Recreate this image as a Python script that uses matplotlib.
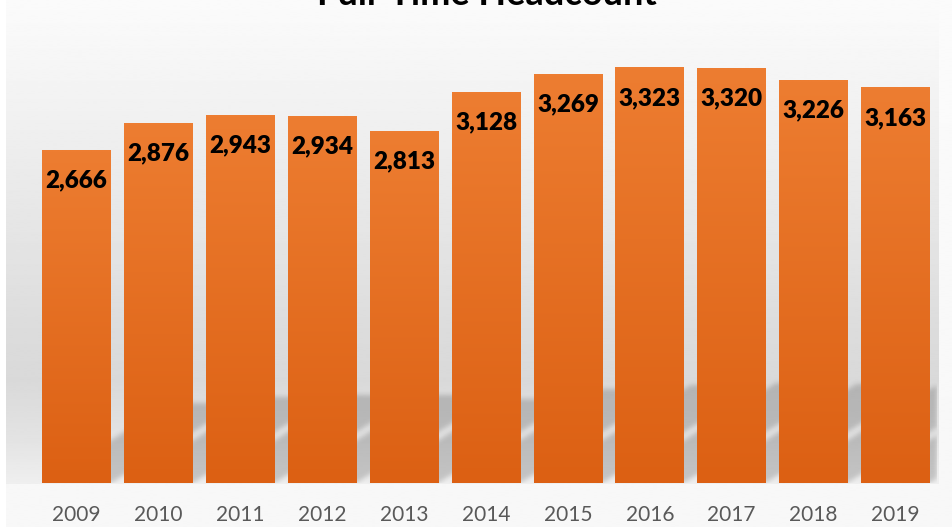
import numpy as np
import matplotlib
matplotlib.use('Agg')
import matplotlib.pyplot as plt

years = ['2009', '2010', '2011', '2012', '2013', '2014', '2015', '2016', '2017', '2018', '2019']
headcount = [2666, 2876, 2943, 2934, 2813, 3128, 3269, 3323, 3320, 3226, 3163]
title = 'Full-Time Headcount'

W, H = 953, 527
plt.rcParams['font.family'] = ['Lato', 'DejaVu Sans']

fig = plt.figure(figsize=(W / 100, H / 100), dpi=100, facecolor='white')

# background layer in pixel coords
bg = fig.add_axes([0, 0, 1, 1])
bg.set_xlim(0, W)
bg.set_ylim(H, 0)
bg.axis('off')

def vgrad(stops_y, stops_v, n):
    yy = np.linspace(stops_y[0], stops_y[-1], n)
    return np.interp(yy, stops_y, stops_v).reshape(-1, 1)

chart_bg = vgrad([0, 527], [0.984, 0.969], 200)
bg.imshow(chart_bg, cmap='gray', vmin=0, vmax=1, aspect='auto',
          extent=[6, W, H, 0], interpolation='bilinear')
plot_bg = vgrad([0, 60, 200, 330, 380, 440, 484],
                [0.984, 0.965, 0.91, 0.863, 0.851, 0.89, 0.937], 300)
bg.imshow(plot_bg, cmap='gray', vmin=0, vmax=1, aspect='auto',
          extent=[6, 939, 484, 0], interpolation='bilinear')

# main bar axes
ymax = 3500
ax = fig.add_axes([35.6 / W, 44 / H, 900.9 / W, 0.1249 * ymax / H])
ax.set_facecolor('none')
x = np.arange(len(years))
bw = 0.84

# perspective shadows cast behind the bars
k = 0.00244          # horizontal shift per unit of height
sh_top = 1200
gx = np.linspace(-0.5, 10.5, 901)
gy = np.linspace(0, sh_top, 150)
X, Y = np.meshgrid(gx, gy)
mask = np.zeros_like(X)
for i, v in enumerate(headcount):
    s = 0.24 * v
    m = (Y <= s) & (X >= i - bw / 2 + k * Y) & (X <= i + bw / 2 + k * Y)
    mask = np.maximum(mask, m.astype(float))
kern = np.exp(-0.5 * (np.arange(-8, 9) / 2.5) ** 2)
kern /= kern.sum()
mask = np.apply_along_axis(lambda r: np.convolve(r, kern, mode='same'), 1, mask)
mask = np.apply_along_axis(lambda c: np.convolve(c, kern, mode='same'), 0, mask)
shadow = np.zeros(mask.shape + (4,))
shadow[..., 3] = 0.18 * mask
ax.imshow(shadow, origin='lower', extent=[-0.5, 10.5, 0, sh_top],
          aspect='auto', zorder=1, interpolation='bilinear')

# bars with a vertical orange gradient
top_c = np.array([0xED, 0x7D, 0x31]) / 255
bot_c = np.array([0xDC, 0x60, 0x13]) / 255
t = np.linspace(1, 0, 100).reshape(-1, 1, 1)
grad = bot_c * (1 - t) + top_c * t
bars = ax.bar(x, headcount, width=bw, color='#E46C22', zorder=2)
for b, v in zip(bars, headcount):
    ax.imshow(grad, extent=[b.get_x(), b.get_x() + bw, 0, v],
              aspect='auto', zorder=3, interpolation='bilinear')
    ax.annotate(f'{v:,}', (b.get_x() + bw / 2, v), xytext=(0, -21.6),
                textcoords='offset points', ha='center', va='center',
                fontsize=17.5, fontweight='heavy', color='black', zorder=4)

ax.set_xlim(-0.5, 10.5)
ax.set_ylim(0, ymax)
ax.set_xticks(x)
ax.set_xticklabels(years, fontsize=15, color='#595959')
ax.tick_params(axis='x', length=0, pad=16)
ax.set_yticks([])
for sp in ax.spines.values():
    sp.set_visible(False)

fig.text(486.5 / W, 1 - 5 / H, title, ha='center', va='baseline',
         fontsize=26, fontweight='bold', color='black')

fig.savefig('out.png', dpi=100, facecolor='white')
